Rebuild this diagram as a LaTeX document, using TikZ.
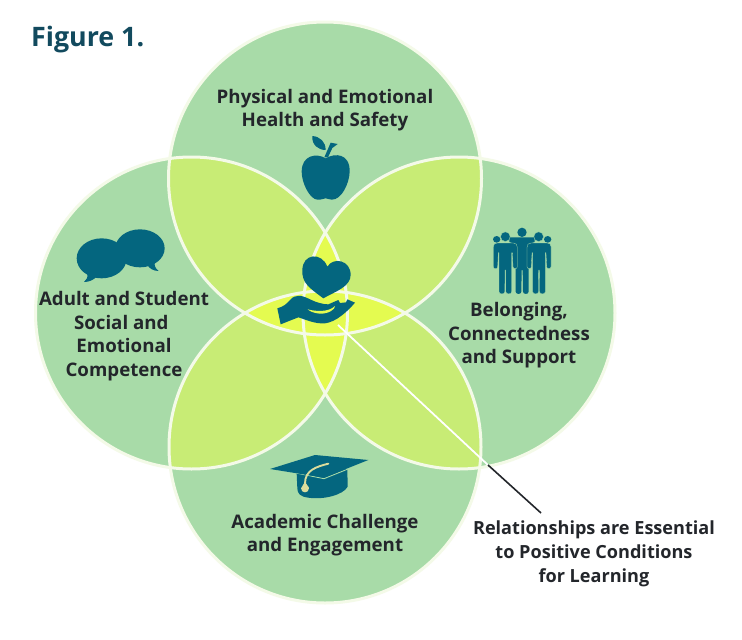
\documentclass[tikz,border=0pt]{standalone}
\usepackage{fontspec}
\setmainfont{Open Sans}
\definecolor{circgreen}{HTML}{A8DBA8}
\definecolor{lensyellow}{HTML}{C8EC75}
\definecolor{coreyellow}{HTML}{E4FB50}
\definecolor{rimwhite}{HTML}{F4FAE8}
\definecolor{iconteal}{HTML}{04667F}
\definecolor{titleteal}{HTML}{124A5E}
\definecolor{labelink}{HTML}{23262B}
\definecolor{tassel}{HTML}{DCDD9C}
\tikzset{
  disc/.style={fill=circgreen},
  rim/.style={draw=rimwhite,line width=3pt},
  icon/.style={fill=iconteal,draw=none},
  figure/.style={fill=iconteal,draw=circgreen,line width=0.3pt},
  lbl/.style={align=center,font=\fontsize{18.7}{23.6}\selectfont\bfseries,text=labelink,inner sep=0pt},
  zoomed/.style={xscale=1/3,yscale=1/3}
}
\newcommand{\circT}{(325,178.5) circle[radius=156.5]}
\newcommand{\circL}{(191.5,313) circle[radius=156]}
\newcommand{\circR}{(459,313) circle[radius=156]}
\newcommand{\circB}{(325,447) circle[radius=156]}
\newcommand{\sideperson}{(40,80) .. controls (40,72) and (45,69) .. (52,69) -- (100,69)
     .. controls (108,69) and (112,74) .. (112,82) -- (112,140)
     .. controls (112,148) and (99,148) .. (99,140) -- (97,98) -- (95,98) -- (95,215)
     .. controls (95,224) and (77.5,224) .. (77.5,215) -- (77,150) -- (75,150) -- (74.5,215)
     .. controls (74.5,224) and (57,224) .. (57,215) -- (57,98) -- (55,98) -- (53,140)
     .. controls (53,148) and (40,148) .. (40,140) -- cycle}
\begin{document}
\begin{tikzpicture}[x=1pt,y=-1pt]
\useasboundingbox (0,0) rectangle (742,640);
\fill[white] (0,0) rectangle (742,640);
% discs
\fill[disc] \circT; \fill[disc] \circL; \fill[disc] \circR; \fill[disc] \circB;
% two-way overlaps
\begin{scope}\clip \circT; \fill[lensyellow] \circL; \fill[lensyellow] \circR; \end{scope}
\begin{scope}\clip \circB; \fill[lensyellow] \circL; \fill[lensyellow] \circR; \end{scope}
% three-way overlaps
\begin{scope}\clip \circL; \fill[coreyellow] \circR; \end{scope}
\begin{scope}\clip \circT; \fill[coreyellow] \circB; \end{scope}
% rims
\draw[rim] \circT; \draw[rim] \circL; \draw[rim] \circR; \draw[rim] \circB;

% apple, heart and hand
\begin{scope}[shift={(260,120)},zoomed]
  \fill[icon] (197,115) .. controls (225,98) and (270,100) .. (269,155)
     .. controls (268,190) and (245,240) .. (215,239)
     .. controls (207,239) and (203,235) .. (197,235)
     .. controls (190,235) and (185,240) .. (172,239)
     .. controls (150,238) and (125,190) .. (125,155)
     .. controls (125,105) and (170,98) .. (197,115) -- cycle;
  \fill[icon] (157,48) .. controls (180,50) and (197,65) .. (197,90)
     .. controls (175,90) and (155,75) .. (157,48) -- cycle;
  \fill[icon] (193,112) -- (212,68) -- (233,72) -- (217,84) -- (204,112) -- cycle;
  % heart
  \fill[icon] (190,535) .. controls (150,505) and (125,490) .. (127,450)
     .. controls (128,400) and (185,395) .. (202,440)
     .. controls (220,410) and (272,420) .. (272,465)
     .. controls (272,500) and (225,515) .. (190,535) -- cycle;
  % hand
  \fill[icon] (52,565) -- (62,613) -- (115,592)
     .. controls (140,600) and (165,612) .. (195,610)
     .. controls (228,606) and (262,575) .. (285,548)
     -- (262,538) -- (258,547) -- (240,549) -- (235,540) -- (205,553)
     .. controls (190,553) and (170,548) .. (150,538)
     .. controls (125,525) and (105,522) .. (90,540)
     .. controls (80,552) and (70,560) .. (52,565) -- cycle;
  \fill[coreyellow] (143,568) .. controls (165,574) and (205,578) .. (225,558)
     .. controls (226,568) and (205,582) .. (180,581)
     .. controls (165,580) and (150,575) .. (143,568) -- cycle;
\end{scope}

% speech bubbles
\begin{scope}[shift={(60,215)},zoomed]
  \fill[icon] (240,100) ellipse[x radius=74,y radius=57];
  \fill[icon] (262,150) .. controls (268,160) and (280,168) .. (296,168)
     .. controls (285,160) and (282,150) .. (285,140) -- cycle;
  \fill[icon] (125,130) ellipse[x radius=75,y radius=60];
  \fill[icon] (82,175) .. controls (84,187) and (80,195) .. (72,201)
     .. controls (88,201) and (100,195) .. (110,185) -- cycle;
\end{scope}

% three people
\begin{scope}[shift={(480,220)},zoomed]
  \fill[icon] (50,58) ellipse[x radius=11,y radius=10];
  \fill[icon] (203,58) ellipse[x radius=11,y radius=10];
  % centre person
  \fill[icon] (126,37) circle[radius=14];
  \fill[icon] (88,52) -- (164,52) -- (164,66) -- (146,72) -- (146,215)
     .. controls (146,224) and (129,224) .. (129,215) -- (128,150) -- (125,150) -- (124,215)
     .. controls (124,224) and (107,224) .. (107,215) -- (107,72) -- (88,66) -- cycle;
  % side people
  \fill[figure] (76,50) circle[radius=14.5];
  \fill[figure] (176,50) circle[radius=14.5];
  \fill[figure] \sideperson;
  \begin{scope}[shift={(253,0)},xscale=-1]
    \fill[figure] \sideperson;
  \end{scope}
\end{scope}

% mortarboard
\begin{scope}[shift={(260,445)},zoomed]
  \fill[icon] (110,85) -- (262,72) -- (263,125)
     .. controls (250,150) and (190,165) .. (145,158)
     .. controls (120,155) and (112,145) .. (112,130) -- cycle;
  \draw[circgreen,line width=0.9pt] (108,84) -- (192,101) -- (264,72);
  \fill[icon] (30,72) -- (165,30) -- (325,45) -- (192,98) -- cycle;
  \draw[tassel,line width=1.9pt,line cap=round] (205,56) .. controls (170,65) and (135,75) .. (135,115);
  \fill[tassel] (135,110) .. controls (138,120) and (148,125) .. (147,130)
     .. controls (146,146) and (124,146) .. (123,130)
     .. controls (123,125) and (132,120) .. (135,110) -- cycle;
\end{scope}

% labels
\node[lbl,anchor=west] (title) at (31,40) {\fontsize{26.8}{30}\selectfont\textcolor{titleteal}{Figure 1.}};
\node[lbl] (physical) at (325,110) {Physical and Emotional\\Health and Safety};
\node[lbl] (adult) at (124,336) {Adult and Student\\Social and\kern5.5pt\\Emotional\\Competence};
\node[lbl] (belong) at (519,335.5) {Belonging,\\Connectedness\\and Support};
\node[lbl] (academic) at (325,535) {Academic Challenge\\and Engagement};
\node[lbl,font=\fontsize{18.1}{24}\selectfont\bfseries] (rel) at (594,554) {Relationships are Essential\\to Positive Conditions\\for Learning};

% leader line
\coordinate (hub) at (338,325);
\coordinate (edge) at (488,465);
\coordinate (tip) at (541,513);
\draw[white,line width=1.8pt] (hub) -- (edge);
\draw[labelink,line width=1.6pt] (edge) -- (tip);
\end{tikzpicture}
\end{document}
